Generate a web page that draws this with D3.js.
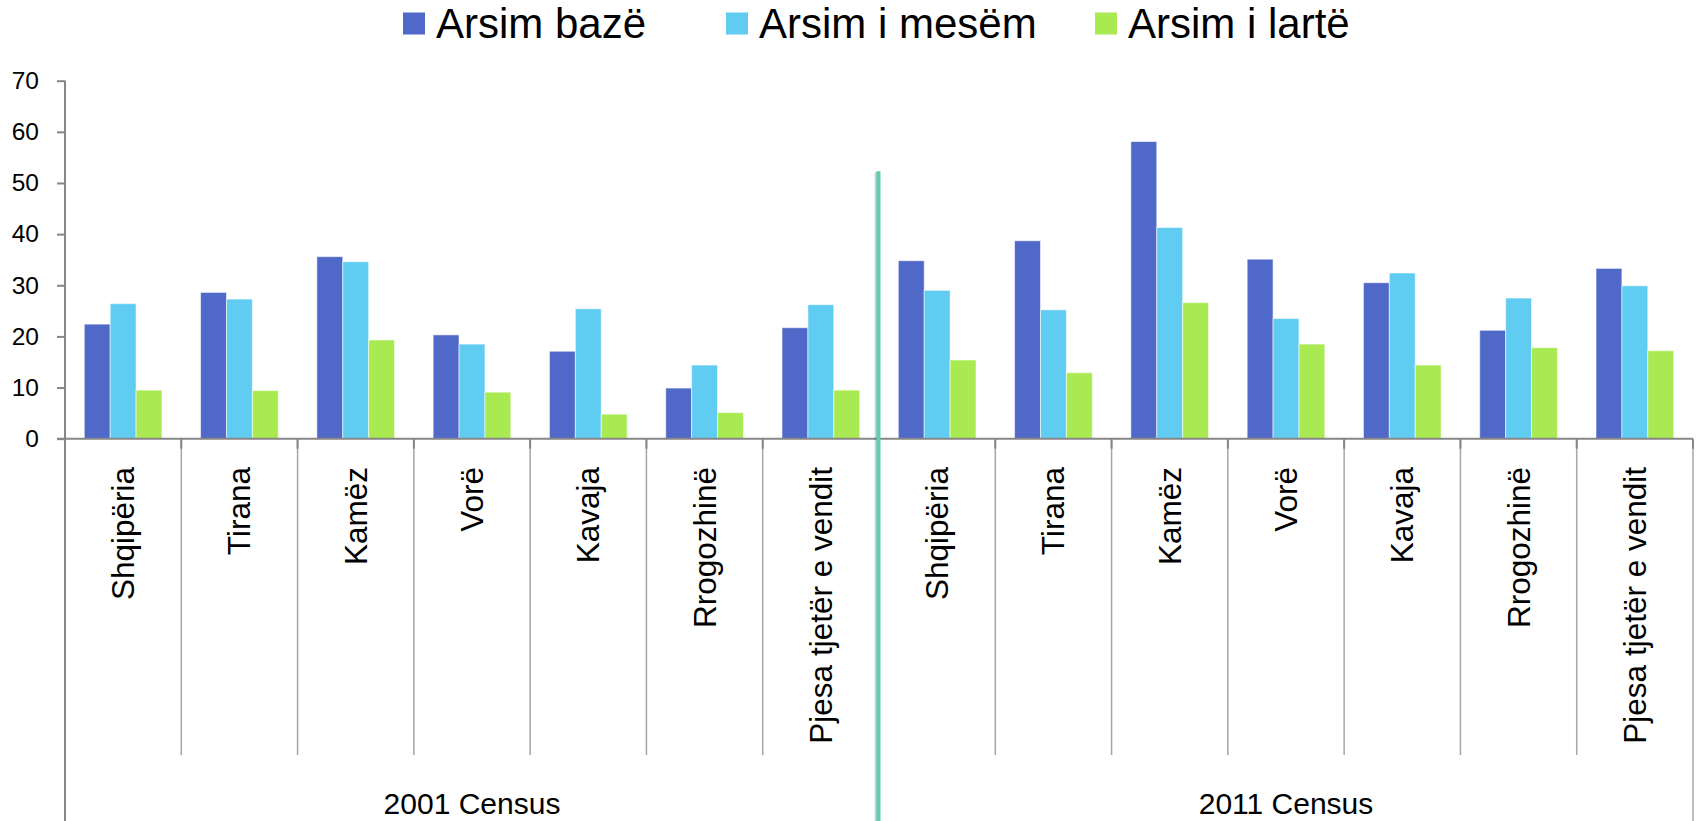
<!DOCTYPE html>
<html>
<head>
<meta charset="utf-8">
<script src="https://cdn.jsdelivr.net/npm/d3@7"></script>
<style>
  html, body { margin: 0; padding: 0; background: #ffffff; }
  svg { display: block; }
  text { font-family: "Liberation Sans", Arial, sans-serif; fill: #000; }
</style>
</head>
<body>
<svg id="chart" width="1696" height="821"></svg>
<script>
// ---- data ----
const groups = ["2001 Census", "2011 Census"];
const districts = ["Shqipëria", "Tirana", "Kamëz", "Vorë", "Kavaja", "Rrogozhinë", "Pjesa tjetër e vendit"];
const seriesNames = ["Arsim bazë", "Arsim i mesëm", "Arsim i lartë"];
const seriesColors = ["#5068C8", "#60CCF2", "#A9EA52"];

const basic2001     = [22.4, 28.6, 35.6, 20.3, 17.1, 9.9, 21.7];
const secondary2001 = [26.4, 27.3, 34.6, 18.5, 25.4, 14.4, 26.2];
const higher2001    = [9.5, 9.4, 19.3, 9.1, 4.8, 5.1, 9.5];
const basic2011     = [34.8, 38.7, 58.1, 35.1, 30.5, 21.2, 33.3];
const secondary2011 = [29.0, 25.2, 41.3, 23.5, 32.4, 27.5, 29.9];
const higher2011    = [15.4, 12.9, 26.6, 18.5, 14.4, 17.8, 17.2];

const yTicks = [0, 10, 20, 30, 40, 50, 60, 70];
const separatorValue = 52.3;

// ---- build table ----
const valuesByGroup = [
  [basic2001, secondary2001, higher2001],
  [basic2011, secondary2011, higher2011]
];
const categories = [];
groups.forEach((g, gi) => {
  districts.forEach((d, di) => {
    categories.push({
      key: gi + "|" + di, group: g, gi, name: d,
      values: seriesNames.map((s, si) => ({ series: s, si, value: valuesByGroup[gi][si][di] }))
    });
  });
});

// ---- layout ----
const svg = d3.select("#chart");
const plotLeft = 65, plotRight = 1693, plotTop = 80.7, baseY = 438.7;
const divBottom = 755, chartBottom = 821;

const x0 = d3.scaleBand().domain(categories.map(c => c.key)).range([plotLeft, plotRight]).paddingInner(0).paddingOuter(0);
const x1 = d3.scaleBand().domain(seriesNames).range([0, x0.bandwidth()]).paddingInner(0).paddingOuter(0.745);
const y = d3.scaleLinear().domain([0, 70]).range([baseY, plotTop]);

const axisColor = "#868686";

// bars
const cat = svg.append("g").selectAll("g").data(categories).join("g")
  .attr("transform", d => `translate(${x0(d.key)},0)`);
cat.selectAll("rect").data(d => d.values).join("rect")
  .attr("x", d => x1(d.series))
  .attr("width", x1.bandwidth())
  .attr("y", d => y(d.value))
  .attr("height", d => y(0) - y(d.value))
  .attr("fill", d => seriesColors[d.si])
  .attr("stroke", "rgba(255,255,255,0.55)")
  .attr("stroke-width", 1);

// y axis
const yAxis = d3.axisLeft(y).tickValues(yTicks).tickSize(8).tickPadding(18).tickSizeOuter(0);
const gy = svg.append("g").attr("transform", `translate(${plotLeft},0)`).call(yAxis);
gy.select(".domain").remove();
gy.selectAll(".tick line").attr("stroke", axisColor).attr("stroke-width", 2);
gy.selectAll(".tick text").style("font-size", "24.5px").style("font-family", '"Liberation Sans", Arial, sans-serif').attr("fill", "#000");
svg.append("line").attr("x1", plotLeft).attr("x2", plotLeft).attr("y1", plotTop).attr("y2", chartBottom)
  .attr("stroke", axisColor).attr("stroke-width", 2);

// x axis baseline
svg.append("line").attr("x1", plotLeft - 8).attr("x2", plotRight).attr("y1", baseY).attr("y2", baseY)
  .attr("stroke", axisColor).attr("stroke-width", 2);

// category dividers
const boundaries = d3.range(1, categories.length + 1).map(i => plotLeft + i * x0.step());
boundaries.forEach((bx, i) => {
  const full = (i === districts.length - 1) || (i === categories.length - 1);
  svg.append("line").attr("x1", bx).attr("x2", bx).attr("y1", baseY).attr("y2", full ? chartBottom : divBottom)
    .attr("stroke", "#a6a6a6").attr("stroke-width", 1.5);
  svg.append("line").attr("x1", bx).attr("x2", bx).attr("y1", baseY).attr("y2", baseY + 10)
    .attr("stroke", axisColor).attr("stroke-width", 2);
});

// category labels (rotated)
svg.append("g").selectAll("text").data(categories).join("text")
  .attr("transform", d => `translate(${x0(d.key) + x0.bandwidth() / 2 + 11},467) rotate(-90)`)
  .attr("text-anchor", "end")
  .style("font-size", "31.5px")
  .text(d => d.name);

// group labels
svg.append("g").selectAll("text").data(groups).join("text")
  .attr("x", (g, gi) => plotLeft + (gi * districts.length + districts.length / 2) * x0.step())
  .attr("y", 814)
  .attr("text-anchor", "middle")
  .style("font-size", "30px")
  .text(d => d);

// separator line with soft shadow (drawn as rects)
const sepX = plotLeft + districts.length * x0.step() - 1;
const sepTop = y(separatorValue);
svg.append("rect").attr("x", sepX - 3.5).attr("y", sepTop + 1).attr("width", 2).attr("height", chartBottom - sepTop)
  .attr("fill", "#000").attr("opacity", 0.12);
svg.append("rect").attr("x", sepX - 2.5).attr("y", sepTop + 1).attr("width", 1.5).attr("height", chartBottom - sepTop)
  .attr("fill", "#000").attr("opacity", 0.15);
svg.append("rect").attr("x", sepX - 1.5).attr("y", sepTop).attr("width", 4).attr("height", chartBottom - sepTop)
  .attr("fill", "#5ECDB2");

// legend
const legendX = [403, 726, 1095];
const lg = svg.append("g").selectAll("g").data(seriesNames).join("g")
  .attr("transform", (d, i) => `translate(${legendX[i]},0)`);
lg.append("rect").attr("x", 0).attr("y", 12.5).attr("width", 22).attr("height", 22)
  .attr("fill", (d, i) => seriesColors[i]);
lg.append("text").attr("x", 33).attr("y", 37.5).style("font-size", "42px").text(d => d);
</script>
</body>
</html>
